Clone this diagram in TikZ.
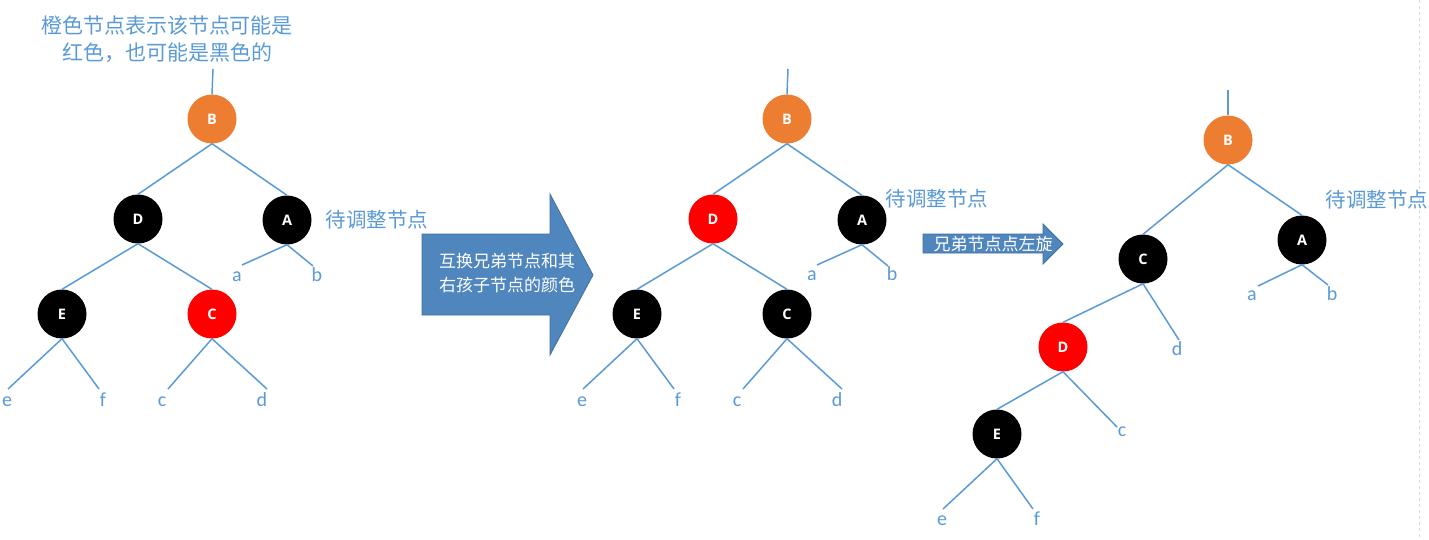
\documentclass[tikz,border=0pt]{standalone}
\usepackage{fontspec}
\setmainfont{Carlito}
\newfontfamily\cjk{Noto Sans CJK SC}
\newfontfamily\nodefont{Open Sans}
\definecolor{lineblue}{HTML}{5B9BD5}
\definecolor{txtblue}{HTML}{5B9BD5}
\definecolor{orangeN}{HTML}{ED7D31}
\definecolor{redN}{HTML}{FF0000}
\definecolor{arrowblue}{HTML}{4F86BD}
\definecolor{arrowedge}{HTML}{41719C}
\begin{document}
\begin{tikzpicture}[x=1pt,y=-1pt,
  rb/.style={circle, minimum size=49pt, inner sep=0pt, text=white,
    font=\nodefont\bfseries\fontsize{14.5}{14.5}\selectfont},
  blacknode/.style={rb, fill=black},
  rednode/.style={rb, fill=redN},
  orangenode/.style={rb, fill=orangeN},
  edge/.style={draw=lineblue, line width=1.5pt},
  leaf/.style={text=txtblue, font=\fontsize{20}{20}\selectfont, anchor=base, inner sep=0pt},
  note/.style={text=txtblue, font=\cjk\fontsize{20.5}{20.5}\selectfont, inner sep=0pt},
  bigarrow/.style={fill=arrowblue, draw=arrowedge, line width=0.8pt},
  arrowtext/.style={text=white, font=\cjk\fontsize{17}{24}\selectfont, align=center, inner sep=0pt}
]
\useasboundingbox (0,0) rectangle (1429,539);
\fill[white] (0,0) rectangle (1429,539);
\draw[gray!30, dashed, line width=0.8pt] (1419,0) -- (1419,539);

% ---------- tree 1 ----------
\node[note, align=center, font=\cjk\fontsize{21}{27}\selectfont] (title) at (167,39) {橙色节点表示该节点可能是\\红色，也可能是黑色的};
\coordinate (t1) at (213,69);
\node[orangenode] (B1) at (212,119) {B};
\node[blacknode] (D1) at (138,219) {D};
\node[blacknode] (A1) at (287,220) {A};
\node[blacknode] (E1) at (62,314) {E};
\node[rednode] (C1) at (212,314) {C};
\node[note] (n1) at (377,220) {待调整节点};
\coordinate (a1e) at (242,265);
\coordinate (b1e) at (313,266);
\coordinate (e1e) at (8,389);
\coordinate (f1e) at (99,389);
\coordinate (c1e) at (168,389);
\coordinate (d1e) at (267,389);
\node[leaf] (a1) at (237,281) {a};
\node[leaf] (b1) at (317,281) {b};
\node[leaf] (e1) at (7,406) {e};
\node[leaf] (f1) at (103,406) {f};
\node[leaf] (c1) at (162,406) {c};
\node[leaf] (d1) at (262,406) {d};
\draw[edge] (t1) -- (B1.north);
\draw[edge] (B1.south) -- (D1.north);
\draw[edge] (B1.south) -- (A1.north);
\draw[edge] (D1.south) -- (E1.north);
\draw[edge] (D1.south) -- (C1.north);
\draw[edge] (A1.south) -- (a1e);
\draw[edge] (A1.south) -- (b1e);
\draw[edge] (E1.south) -- (e1e);
\draw[edge] (E1.south) -- (f1e);
\draw[edge] (C1.south) -- (c1e);
\draw[edge] (C1.south) -- (d1e);

% ---------- arrow 1 ----------
\draw[bigarrow] (422,234) -- (550,234) -- (550,194) -- (593,275) -- (550,355) -- (550,315) -- (422,315) -- cycle;
\node[arrowtext] (arr1) at (507,273) {互换兄弟节点和其\\右孩子节点的颜色};

% ---------- tree 2 ----------
\coordinate (t2) at (788,69);
\node[orangenode] (B2) at (787,119) {B};
\node[rednode] (D2) at (713,219) {D};
\node[blacknode] (A2) at (862,220) {A};
\node[blacknode] (E2) at (637,314) {E};
\node[blacknode] (C2) at (787,314) {C};
\node[note] (n2) at (937,199) {待调整节点};
\coordinate (a2e) at (817,265);
\coordinate (b2e) at (888,266);
\coordinate (e2e) at (583,389);
\coordinate (f2e) at (674,389);
\coordinate (c2e) at (743,389);
\coordinate (d2e) at (842,389);
\node[leaf] (a2) at (812,280) {a};
\node[leaf] (b2) at (892,280) {b};
\node[leaf] (e2) at (582,406) {e};
\node[leaf] (f2) at (678,406) {f};
\node[leaf] (c2) at (737,406) {c};
\node[leaf] (d2) at (837,406) {d};
\draw[edge] (t2) -- (B2.north);
\draw[edge] (B2.south) -- (D2.north);
\draw[edge] (B2.south) -- (A2.north);
\draw[edge] (D2.south) -- (E2.north);
\draw[edge] (D2.south) -- (C2.north);
\draw[edge] (A2.south) -- (a2e);
\draw[edge] (A2.south) -- (b2e);
\draw[edge] (E2.south) -- (e2e);
\draw[edge] (E2.south) -- (f2e);
\draw[edge] (C2.south) -- (c2e);
\draw[edge] (C2.south) -- (d2e);

% ---------- arrow 2 ----------
\draw[bigarrow] (923,234) -- (1043,234) -- (1043,224) -- (1063,244) -- (1043,264) -- (1043,253) -- (923,253) -- cycle;
\node[arrowtext] (arr2) at (993,244) {兄弟节点点左旋};

% ---------- tree 3 ----------
\coordinate (t3) at (1228,90);
\node[orangenode] (B3) at (1228,140) {B};
\node[blacknode] (C3) at (1143,259) {C};
\node[blacknode] (A3) at (1302,240) {A};
\node[rednode] (D3) at (1063,347) {D};
\node[blacknode] (E3) at (997,434) {E};
\node[note] (n3) at (1377,200) {待调整节点};
\coordinate (a3e) at (1258,286);
\coordinate (b3e) at (1328,285);
\coordinate (d3e) at (1179,340);
\coordinate (c3e) at (1117,427);
\coordinate (e3e) at (943,509);
\coordinate (f3e) at (1033,509);
\node[leaf] (a3) at (1252,300) {a};
\node[leaf] (b3) at (1332,300) {b};
\node[leaf] (d3) at (1177,355) {d};
\node[leaf] (c3) at (1122,436) {c};
\node[leaf] (e3) at (942,525) {e};
\node[leaf] (f3) at (1037,525) {f};
\draw[edge] (t3) -- (B3.north);
\draw[edge] (B3.south) -- (C3.north);
\draw[edge] (B3.south) -- (A3.north);
\draw[edge] (C3.south) -- (D3.north);
\draw[edge] (C3.south) -- (d3e);
\draw[edge] (A3.south) -- (a3e);
\draw[edge] (A3.south) -- (b3e);
\draw[edge] (D3.south) -- (E3.north);
\draw[edge] (D3.south) -- (c3e);
\draw[edge] (E3.south) -- (e3e);
\draw[edge] (E3.south) -- (f3e);
\end{tikzpicture}
\end{document}
